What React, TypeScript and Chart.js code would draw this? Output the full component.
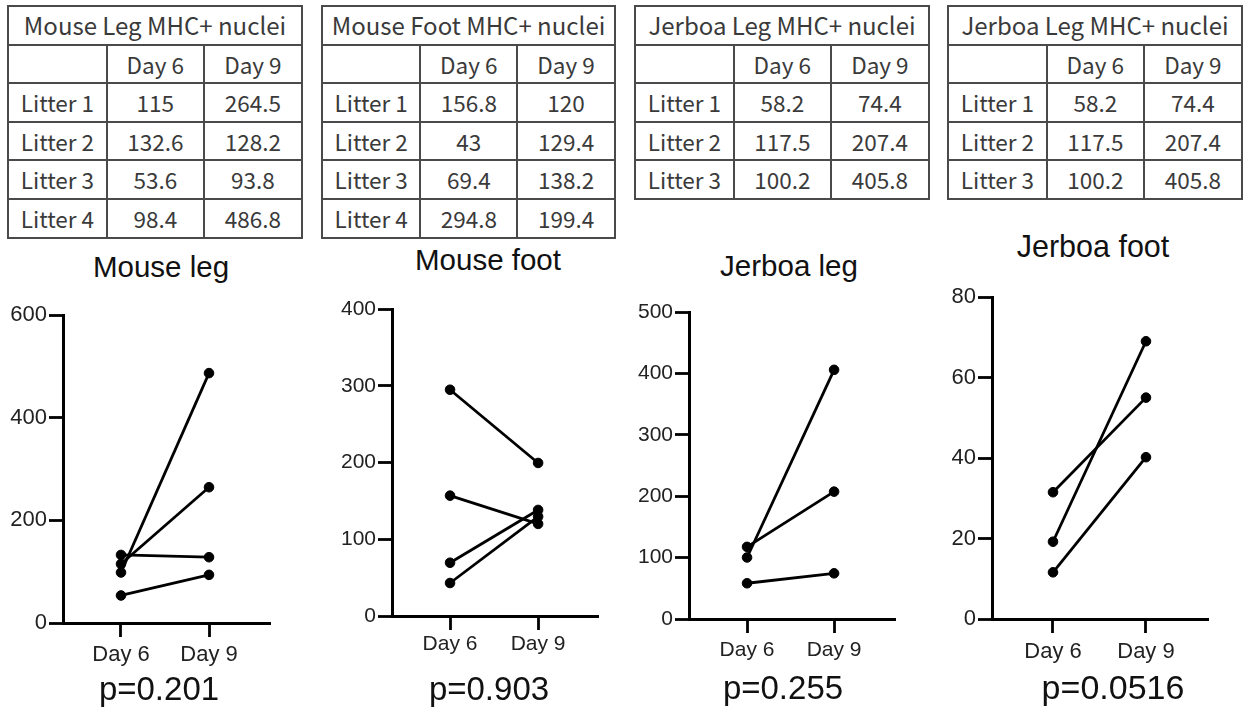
import React, { useEffect, useRef } from 'react';
import { Chart, registerables } from 'chart.js';

Chart.register(...registerables);

// ---------- DATA ----------
const dayLabels = ['Day 6', 'Day 9'];
const litterLabels = ['Litter 1', 'Litter 2', 'Litter 3', 'Litter 4'];

const tableTitles = [
  'Mouse Leg MHC+ nuclei',
  'Mouse Foot MHC+ nuclei',
  'Jerboa Leg MHC+ nuclei',
  'Jerboa Leg MHC+ nuclei',
];

const mouseLegDay6 = [115, 132.6, 53.6, 98.4];
const mouseLegDay9 = [264.5, 128.2, 93.8, 486.8];
const mouseFootDay6 = [156.8, 43, 69.4, 294.8];
const mouseFootDay9 = [120, 129.4, 138.2, 199.4];
const jerboaLegDay6 = [58.2, 117.5, 100.2];
const jerboaLegDay9 = [74.4, 207.4, 405.8];
// the fourth table in the figure repeats the Jerboa leg numbers
const table4Day6 = [58.2, 117.5, 100.2];
const table4Day9 = [74.4, 207.4, 405.8];
// Jerboa foot plot values
const jerboaFootDay6 = [31.5, 19.2, 11.6];
const jerboaFootDay9 = [55.0, 69.0, 40.2];

const chartTitles = ['Mouse leg', 'Mouse foot', 'Jerboa leg', 'Jerboa foot'];
const pValueLabels = ['p=0.201', 'p=0.903', 'p=0.255', 'p=0.0516'];
const yMaxValues = [600, 400, 500, 80];
const yStepValues = [200, 100, 100, 20];

const tableDay6 = [mouseLegDay6, mouseFootDay6, jerboaLegDay6, table4Day6];
const tableDay9 = [mouseLegDay9, mouseFootDay9, jerboaLegDay9, table4Day9];
const chartDay6 = [mouseLegDay6, mouseFootDay6, jerboaLegDay6, jerboaFootDay6];
const chartDay9 = [mouseLegDay9, mouseFootDay9, jerboaLegDay9, jerboaFootDay9];

// ---------- LAYOUT ----------
const tableLayout = [
  { left: 7, top: 5, width: 296 },
  { left: 321, top: 5, width: 295 },
  { left: 634, top: 5, width: 296 },
  { left: 947, top: 5, width: 296 },
];
const ROW_H = 38.6;

const chartLayout = [
  { area: [63, 315, 270, 623], xMin: 0.341, xMax: 2.693, labelPad: 5, tickFont: 22, title: [161, 267, 29.5], p: [159, 688, 33] },
  { area: [392, 309, 598, 616], xMin: 0.341, xMax: 2.68, labelPad: 2, tickFont: 21, title: [488, 260, 29.5], p: [489, 688, 33] },
  { area: [689, 312, 895, 619], xMin: 0.333, xMax: 2.70, labelPad: 5, tickFont: 21, title: [789, 266, 29.5], p: [783, 687, 33] },
  { area: [992, 297, 1208, 619], xMin: 0.344, xMax: 2.667, labelPad: 6, tickFont: 22, title: [1093, 246, 30.5], p: [1113, 687, 34] },
];

const Y_AXIS_W = 60;
const X_AXIS_H = 50;
const PAD_TOP = 20;
const PAD_RIGHT = 10;
const SANS = "'Liberation Sans', Arial, Helvetica, sans-serif";
const TABLE_FONT = "'Noto Sans CJK JP', 'Noto Sans', sans-serif";

function DataTable({ idx }: { idx: number }) {
  const lay = tableLayout[idx];
  const d6 = tableDay6[idx];
  const d9 = tableDay9[idx];
  const cell: React.CSSProperties = {
    border: '2px solid #4a4a4a',
    height: ROW_H,
    padding: 0,
    textAlign: 'center',
    verticalAlign: 'middle',
    boxSizing: 'border-box',
    whiteSpace: 'nowrap',
  };
  return (
    <table
      style={{
        position: 'absolute',
        left: lay.left,
        top: lay.top,
        width: lay.width,
        borderCollapse: 'collapse',
        tableLayout: 'fixed',
        fontFamily: TABLE_FONT,
        fontWeight: 400,
        fontSize: 22.5,
        color: '#3a3a3a',
        lineHeight: 1,
      }}
    >
      <colgroup>
        <col style={{ width: '33.6%' }} />
        <col style={{ width: '33%' }} />
        <col style={{ width: '33.4%' }} />
      </colgroup>
      <tbody>
        <tr>
          <td colSpan={3} style={{ ...cell, fontSize: 24 }}>{tableTitles[idx]}</td>
        </tr>
        <tr>
          <td style={cell}></td>
          <td style={cell}>{dayLabels[0]}</td>
          <td style={cell}>{dayLabels[1]}</td>
        </tr>
        {d6.map((v, i) => (
          <tr key={i}>
            <td style={cell}>{litterLabels[i]}</td>
            <td style={cell}>{String(v)}</td>
            <td style={cell}>{String(d9[i])}</td>
          </tr>
        ))}
      </tbody>
    </table>
  );
}

function PairedChart({ idx }: { idx: number }) {
  const ref = useRef<HTMLCanvasElement>(null);
  const lay = chartLayout[idx];
  const [aL, aT, aR, aB] = lay.area;
  const cLeft = aL - Y_AXIS_W;
  const cTop = aT - PAD_TOP;
  const cW = aR + PAD_RIGHT - cLeft;
  const cH = aB + X_AXIS_H - cTop;

  useEffect(() => {
    if (!ref.current) return;
    const d6 = chartDay6[idx];
    const d9 = chartDay9[idx];
    const datasets = d6.map((v, i) => ({
      data: [
        { x: 1, y: v },
        { x: 2, y: d9[i] },
      ],
      showLine: true,
      borderColor: '#000',
      backgroundColor: '#000',
      borderWidth: 2.8,
      pointRadius: 4.8,
      pointBorderWidth: 1,
      pointBackgroundColor: '#000',
      pointBorderColor: '#000',
      clip: false as any,
    }));
    const tickFont = { family: SANS, size: lay.tickFont };
    const chart = new Chart(ref.current, {
      type: 'scatter',
      data: { datasets },
      options: {
        animation: false,
        responsive: false,
        events: [],
        layout: { padding: { top: PAD_TOP, right: PAD_RIGHT, left: 0, bottom: 0 } },
        plugins: {
          legend: { display: false },
          tooltip: { enabled: false },
          title: { display: false },
        },
        scales: {
          x: {
            type: 'linear',
            min: lay.xMin,
            max: lay.xMax,
            afterBuildTicks: (s: any) => {
              s.ticks = [{ value: 1 }, { value: 2 }];
            },
            afterFit: (s: any) => {
              s.height = X_AXIS_H;
            },
            ticks: {
              callback: (v: any) => (v === 1 ? dayLabels[0] : v === 2 ? dayLabels[1] : ''),
              font: tickFont,
              color: '#222',
              padding: lay.labelPad,
              maxRotation: 0,
              autoSkip: false,
            },
            grid: {
              drawOnChartArea: false,
              drawTicks: true,
              tickLength: 14,
              tickWidth: 2.8,
              tickColor: '#000',
            },
            border: { display: true, color: '#000', width: 3 },
          },
          y: {
            type: 'linear',
            min: 0,
            max: yMaxValues[idx],
            afterFit: (s: any) => {
              s.width = Y_AXIS_W;
            },
            ticks: {
              stepSize: yStepValues[idx],
              font: tickFont,
              color: '#222',
              padding: 2,
            },
            grid: {
              drawOnChartArea: false,
              drawTicks: true,
              tickLength: 14,
              tickWidth: 2.8,
              tickColor: '#000',
            },
            border: { display: true, color: '#000', width: 3 },
          },
        },
      },
    });
    return () => chart.destroy();
  }, [idx]);

  const textStyle = (x: number, y: number, size: number): React.CSSProperties => ({
    position: 'absolute',
    left: x,
    top: y,
    transform: 'translate(-50%, -50%)',
    whiteSpace: 'nowrap',
    fontFamily: SANS,
    fontSize: size,
    lineHeight: 1,
    color: '#111',
  });

  return (
    <>
      <div style={textStyle(lay.title[0], lay.title[1], lay.title[2])}>{chartTitles[idx]}</div>
      <canvas
        ref={ref}
        width={cW}
        height={cH}
        style={{ position: 'absolute', left: cLeft, top: cTop, width: cW, height: cH, display: 'block' }}
      />
      <div style={textStyle(lay.p[0], lay.p[1], lay.p[2])}>{pValueLabels[idx]}</div>
    </>
  );
}

export default function App() {
  return (
    <div style={{ position: 'absolute', left: 0, top: 0, width: 1244, height: 711, background: '#fff', overflow: 'hidden' }}>
      {[0, 1, 2, 3].map((i) => (
        <DataTable key={'t' + i} idx={i} />
      ))}
      {[0, 1, 2, 3].map((i) => (
        <PairedChart key={'c' + i} idx={i} />
      ))}
    </div>
  );
}
